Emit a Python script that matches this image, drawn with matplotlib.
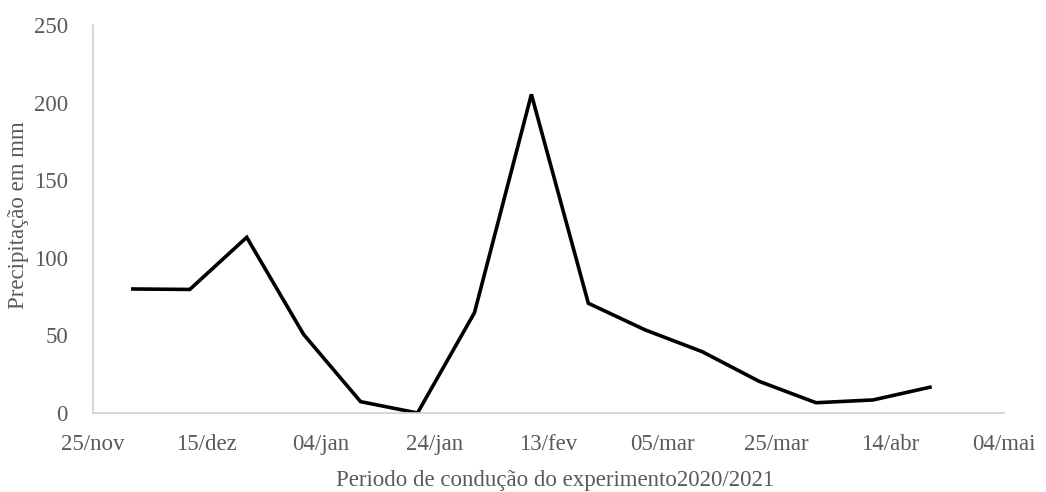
import numpy as np
import matplotlib
matplotlib.use("Agg")
import matplotlib.pyplot as plt

# Ten-day rainfall totals over the growing season
dates = np.array(["2020-12-02", "2020-12-12", "2020-12-22", "2021-01-01",
                  "2021-01-11", "2021-01-21", "2021-01-31", "2021-02-10",
                  "2021-02-20", "2021-03-02", "2021-03-12", "2021-03-22",
                  "2021-04-01", "2021-04-11", "2021-04-21"], dtype="datetime64[D]")
precip_mm = [79.9, 79.6, 113.2, 50.6, 7.3, 0.0, 64.6, 205.3,
             70.7, 53.5, 39.5, 20.4, 6.6, 8.4, 16.6]

tick_dates = np.array(["2020-11-25", "2020-12-15", "2021-01-04", "2021-01-24",
                       "2021-02-13", "2021-03-05", "2021-03-25", "2021-04-14",
                       "2021-05-04"], dtype="datetime64[D]")
tick_labels = ["25/nov", "15/dez", "04/jan", "24/jan", "13/fev",
               "05/mar", "25/mar", "14/abr", "04/mai"]
y_ticks = [0, 50, 100, 150, 200, 250]

plt.rcParams["font.family"] = ["Liberation Serif", "DejaVu Serif"]
text_color = "#595959"
fs = 16.5

fig = plt.figure(figsize=(10.46, 4.92), dpi=100)
ax = fig.add_axes([0.0889, 0.1606, 0.8709, 0.7886])

x = dates.astype(object)
ax.plot(x, precip_mm, color="black", linewidth=2.6, solid_joinstyle="miter")

tx = tick_dates.astype(object)
ax.set_xlim(tx[0], tx[-1])
ax.set_ylim(0, 250)
ax.set_xticks(tx)
ax.set_xticklabels(tick_labels)
ax.set_yticks(y_ticks)

for side in ("top", "right"):
    ax.spines[side].set_visible(False)
for side in ("left", "bottom"):
    ax.spines[side].set_color("#d0d0d0")
    ax.spines[side].set_linewidth(1.2)

ax.tick_params(axis="both", length=0, labelsize=fs, labelcolor=text_color)
ax.tick_params(axis="y", pad=18)
ax.tick_params(axis="x", pad=15)

ax.set_xlabel("Periodo de condução do experimento2020/2021", fontsize=fs,
              color=text_color)
ax.set_ylabel("Precipitação em mm", fontsize=fs, color=text_color)
ax.xaxis.set_label_coords(0.507, -0.173)
ax.yaxis.set_label_coords(-0.082, 0.51)
ax.xaxis.label.set_va("center")
ax.yaxis.label.set_va("center")

fig.savefig("out.png", dpi=100)
